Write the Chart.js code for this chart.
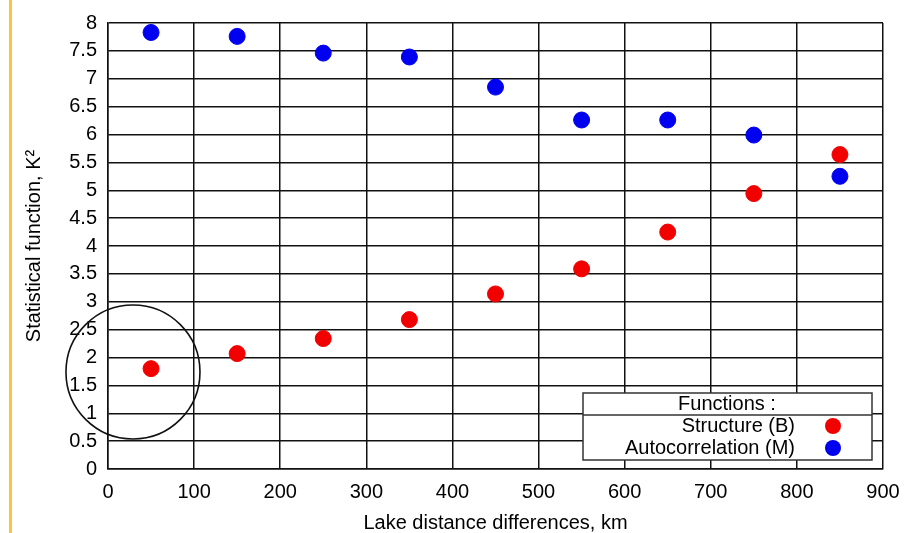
<!DOCTYPE html>
<html lang="en">

<head>
  <meta charset="UTF-8" />
  <title>Statistical function vs lake distance</title>
  <script src="https://cdn.jsdelivr.net/npm/chart.js"></script>
  <style>
    html, body { margin: 0; padding: 0; background: #fff; }
    #wrap { position: relative; width: 916px; height: 533px; }
    #edge { position: absolute; left: 9px; top: 0; width: 3px; height: 533px; background: #fbc244; }
  </style>
</head>

<body>
  <div id="wrap">
    <div id="edge"></div>
    <canvas id="chart" width="916" height="533"></canvas>
  </div>

  <script>
    // distances (km) and the two statistical functions
    const distances = [50, 150, 250, 350, 450, 550, 650, 750, 850];
    const structureB = [1.80, 2.07, 2.34, 2.68, 3.14, 3.59, 4.25, 4.94, 5.64];
    const autocorrM = [7.83, 7.76, 7.46, 7.39, 6.85, 6.26, 6.26, 5.99, 5.25];
    const seriesNames = ['Structure (B)', 'Autocorrelation (M)'];
    const seriesColors = ['#f20000', '#0000f0'];
    const xTicks = [0, 100, 200, 300, 400, 500, 600, 700, 800, 900];
    const yTicks = [0, 0.5, 1, 1.5, 2, 2.5, 3, 3.5, 4, 4.5, 5, 5.5, 6, 6.5, 7, 7.5, 8];

    const FONT = 'Liberation Sans, Arial, sans-serif';

    // circle drawn round the first point (data units + radius in px)
    const ring = { x: 29, y: 1.74, r: 67 };

    const extras = {
      id: 'extras',
      afterDatasetsDraw(chart) {
        const ctx = chart.ctx;
        const sx = chart.scales.x, sy = chart.scales.y;
        ctx.save();
        ctx.strokeStyle = '#111';
        ctx.lineWidth = 1.6;
        ctx.beginPath();
        ctx.arc(sx.getPixelForValue(ring.x), sy.getPixelForValue(ring.y), ring.r, 0, Math.PI * 2);
        ctx.stroke();

        // legend box
        const bx = 583, by = 393, bw = 289, bh = 67;
        ctx.fillStyle = '#fff';
        ctx.fillRect(bx, by, bw, bh);
        ctx.lineWidth = 1.5;
        ctx.strokeStyle = '#333';
        ctx.strokeRect(bx, by, bw, bh);
        ctx.beginPath();
        ctx.moveTo(bx, by + 22);
        ctx.lineTo(bx + bw, by + 22);
        ctx.stroke();
        ctx.fillStyle = '#000';
        ctx.font = '20px ' + FONT;
        ctx.textBaseline = 'middle';
        ctx.textAlign = 'center';
        ctx.fillText('Functions :', 727, by + 11);
        chart.data.datasets.forEach((ds, i) => {
          const ly = by + 33 + i * 22;
          ctx.textAlign = 'right';
          ctx.fillStyle = '#000';
          ctx.fillText(ds.label, 795, ly);
          ctx.fillStyle = ds.backgroundColor;
          ctx.beginPath();
          ctx.arc(833, ly, 8, 0, Math.PI * 2);
          ctx.fill();
        });
        ctx.restore();
      }
    };

    new Chart(document.getElementById('chart'), {
      type: 'scatter',
      data: {
        datasets: [
          {
            label: seriesNames[0],
            data: distances.map((d, i) => ({ x: d, y: structureB[i] })),
            backgroundColor: seriesColors[0],
            borderColor: seriesColors[0],
            pointRadius: 8
          },
          {
            label: seriesNames[1],
            data: distances.map((d, i) => ({ x: d, y: autocorrM[i] })),
            backgroundColor: seriesColors[1],
            borderColor: seriesColors[1],
            pointRadius: 8
          }
        ]
      },
      options: {
        responsive: false,
        animation: false,
        layout: { padding: { left: 0, top: 21, right: 33, bottom: 0 } },
        plugins: { legend: { display: false }, tooltip: { enabled: false } },
        scales: {
          x: {
            type: 'linear',
            min: 0,
            max: 900,
            afterBuildTicks: s => { s.ticks = xTicks.map(v => ({ value: v })); },
            afterFit: s => { s.height = 64; },
            grid: { color: '#111', lineWidth: 1.5, drawTicks: false },
            border: { color: '#111', width: 1.5 },
            ticks: { color: '#000', padding: 11, font: { family: FONT, size: 20 } },
            title: {
              display: true,
              text: 'Lake distance differences, km',
              color: '#000',
              font: { family: FONT, size: 20, lineHeight: 1.0 },
              padding: { top: 0, bottom: 0 }
            }
          },
          y: {
            min: 0,
            max: 8,
            afterBuildTicks: s => { s.ticks = yTicks.map(v => ({ value: v })); },
            afterFit: s => { s.width = 108; },
            grid: { color: '#111', lineWidth: 1.5, drawTicks: false },
            border: { color: '#111', width: 1.5 },
            ticks: { color: '#000', padding: 11, font: { family: FONT, size: 20 }, callback: v => String(v) },
            title: {
              display: true,
              text: 'Statistical function, K²',
              color: '#000',
              font: { family: FONT, size: 20 },
              padding: { top: 22, bottom: 0 }
            }
          }
        }
      },
      plugins: [extras]
    });
  </script>

</body>

</html>
